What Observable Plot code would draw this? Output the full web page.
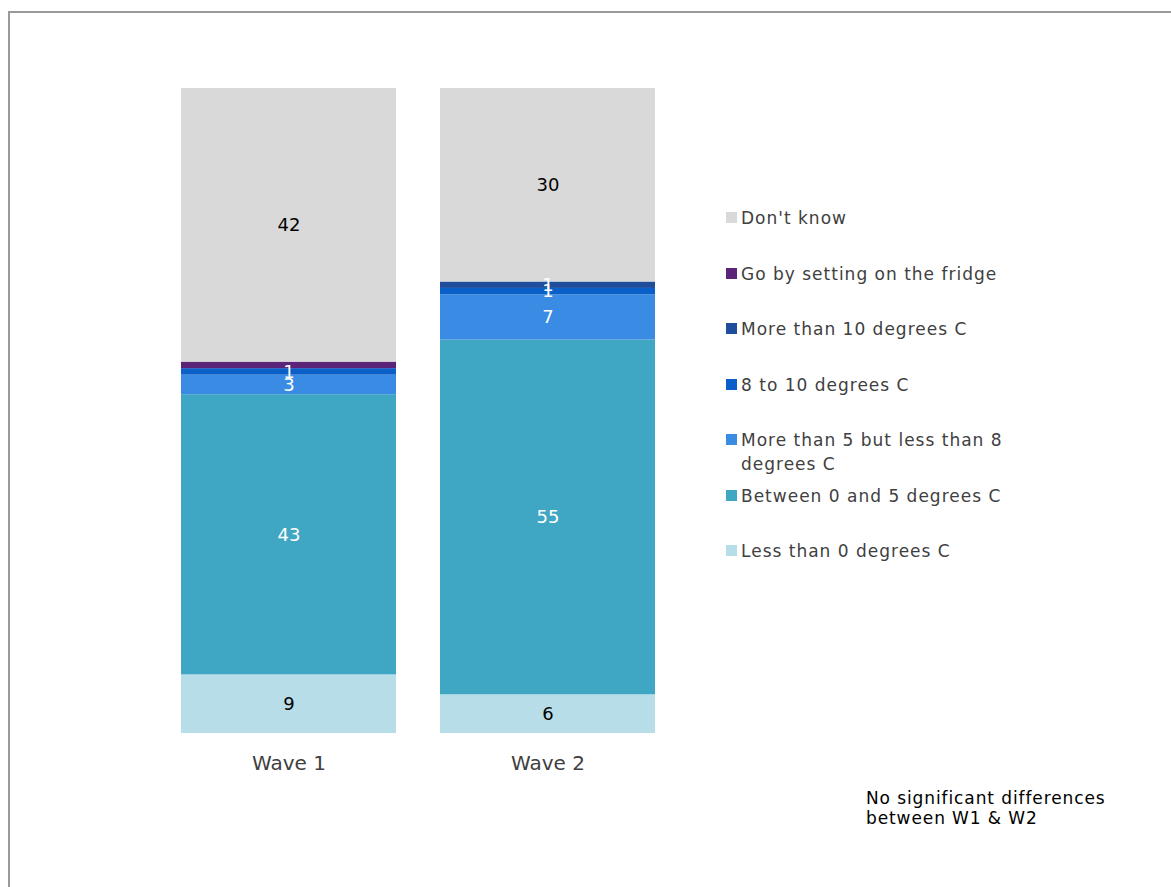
<!DOCTYPE html>
<html>
<head>
<meta charset="utf-8">
<script src="https://cdn.jsdelivr.net/npm/d3@7"></script>
<script src="https://cdn.jsdelivr.net/npm/@observablehq/plot@0.6"></script>
<style>
  html, body { margin: 0; padding: 0; background: #fff; }
  body { width: 1171px; height: 887px; position: relative; overflow: hidden; font-family: "DejaVu Sans", Verdana, sans-serif; }
  #frame { position: absolute; left: 8px; top: 11px; width: 1200px; height: 900px; border: 2px solid #999; box-sizing: border-box; }
  #chart { position: absolute; left: 0; top: 0; }
  #legend { position: absolute; left: 726px; top: 0; width: 320px; }
  .item { position: absolute; left: 0; display: flex; align-items: flex-start; font-size: 17px; line-height: 24px; color: #404040; width: 320px; letter-spacing: 1px; }
  .sw { width: 11px; height: 11px; margin-top: 6px; margin-right: 4px; flex: none; }
  #note { position: absolute; left: 866px; top: 788px; font-size: 17px; line-height: 20px; color: #000; width: 290px; letter-spacing: 0.9px; }
</style>
</head>
<body>
<div id="frame"></div>
<div id="chart"></div>
<div id="legend"></div>
<div id="note">No significant differences between W1 &amp; W2</div>
<script>
// Categories, bottom of the stack first
const categories = [
  "Less than 0 degrees C",
  "Between 0 and 5 degrees C",
  "More than 5 but less than 8 degrees C",
  "8 to 10 degrees C",
  "More than 10 degrees C",
  "Go by setting on the fridge",
  "Don't know"
];
const colors = ["#B7DDE8", "#3FA6C4", "#3A8BE3", "#0B5FC8", "#1F4E9C", "#5B2479", "#D9D9D9"];
const labelColors = ["#000", "#fff", "#fff", "#fff", "#fff", "#fff", "#000"];
const waves = ["Wave 1", "Wave 2"];
const wave1 = [9, 43, 3, 1, 0, 1, 42];
const wave2 = [6, 55, 7, 1, 1, 0, 30];
const wave1Labels = ["9", "43", "3", "1", "", "", "42"];
const wave2Labels = ["6", "55", "7", "1", "1", "", "30"];
const legendTops = [206, 262, 317, 373, 428, 484, 539]; // legend row positions (px)

const rows = [];
[[waves[0], wave1, wave1Labels], [waves[1], wave2, wave2Labels]].forEach(([w, vals, labs]) => {
  categories.forEach((c, i) => rows.push({wave: w, category: c, value: vals[i], label: labs[i], lc: labelColors[i]}));
});

const stackOpts = {x: "wave", y: "value", z: "category", order: categories, offset: "normalize"};

const plot = Plot.plot({
  width: 1171,
  height: 887,
  marginLeft: 159,
  marginRight: 494,
  marginTop: 88,
  marginBottom: 154,
  style: {fontFamily: "DejaVu Sans, Verdana, sans-serif", background: "transparent"},
  x: {domain: waves, paddingInner: 0.17, paddingOuter: 0.085, label: null, tickSize: 0, tickPadding: 22},
  y: {domain: [0, 1], axis: null},
  color: {domain: categories, range: colors},
  marks: [
    Plot.barY(rows, Plot.stackY({...stackOpts, fill: "category"})),
    Plot.text(rows, Plot.stackY({...stackOpts, text: "label", fill: "lc", fontSize: 18})),
    Plot.axisX({tickSize: 0, tickPadding: 22, fontSize: 20, fill: "#404040", label: null, style: {letterSpacing: "1.2px"}})
  ]
});
document.getElementById("chart").appendChild(plot);

// Legend
const legend = document.getElementById("legend");
const order = categories.map((c, i) => i).reverse();
order.forEach((i, k) => {
  const item = document.createElement("div");
  item.className = "item";
  item.style.top = legendTops[k] + "px";
  const sw = document.createElement("div");
  sw.className = "sw";
  sw.style.background = colors[i];
  const t = document.createElement("div");
  t.textContent = categories[i];
  t.style.width = "290px";
  item.appendChild(sw);
  item.appendChild(t);
  legend.appendChild(item);
});
</script>
</body>
</html>
